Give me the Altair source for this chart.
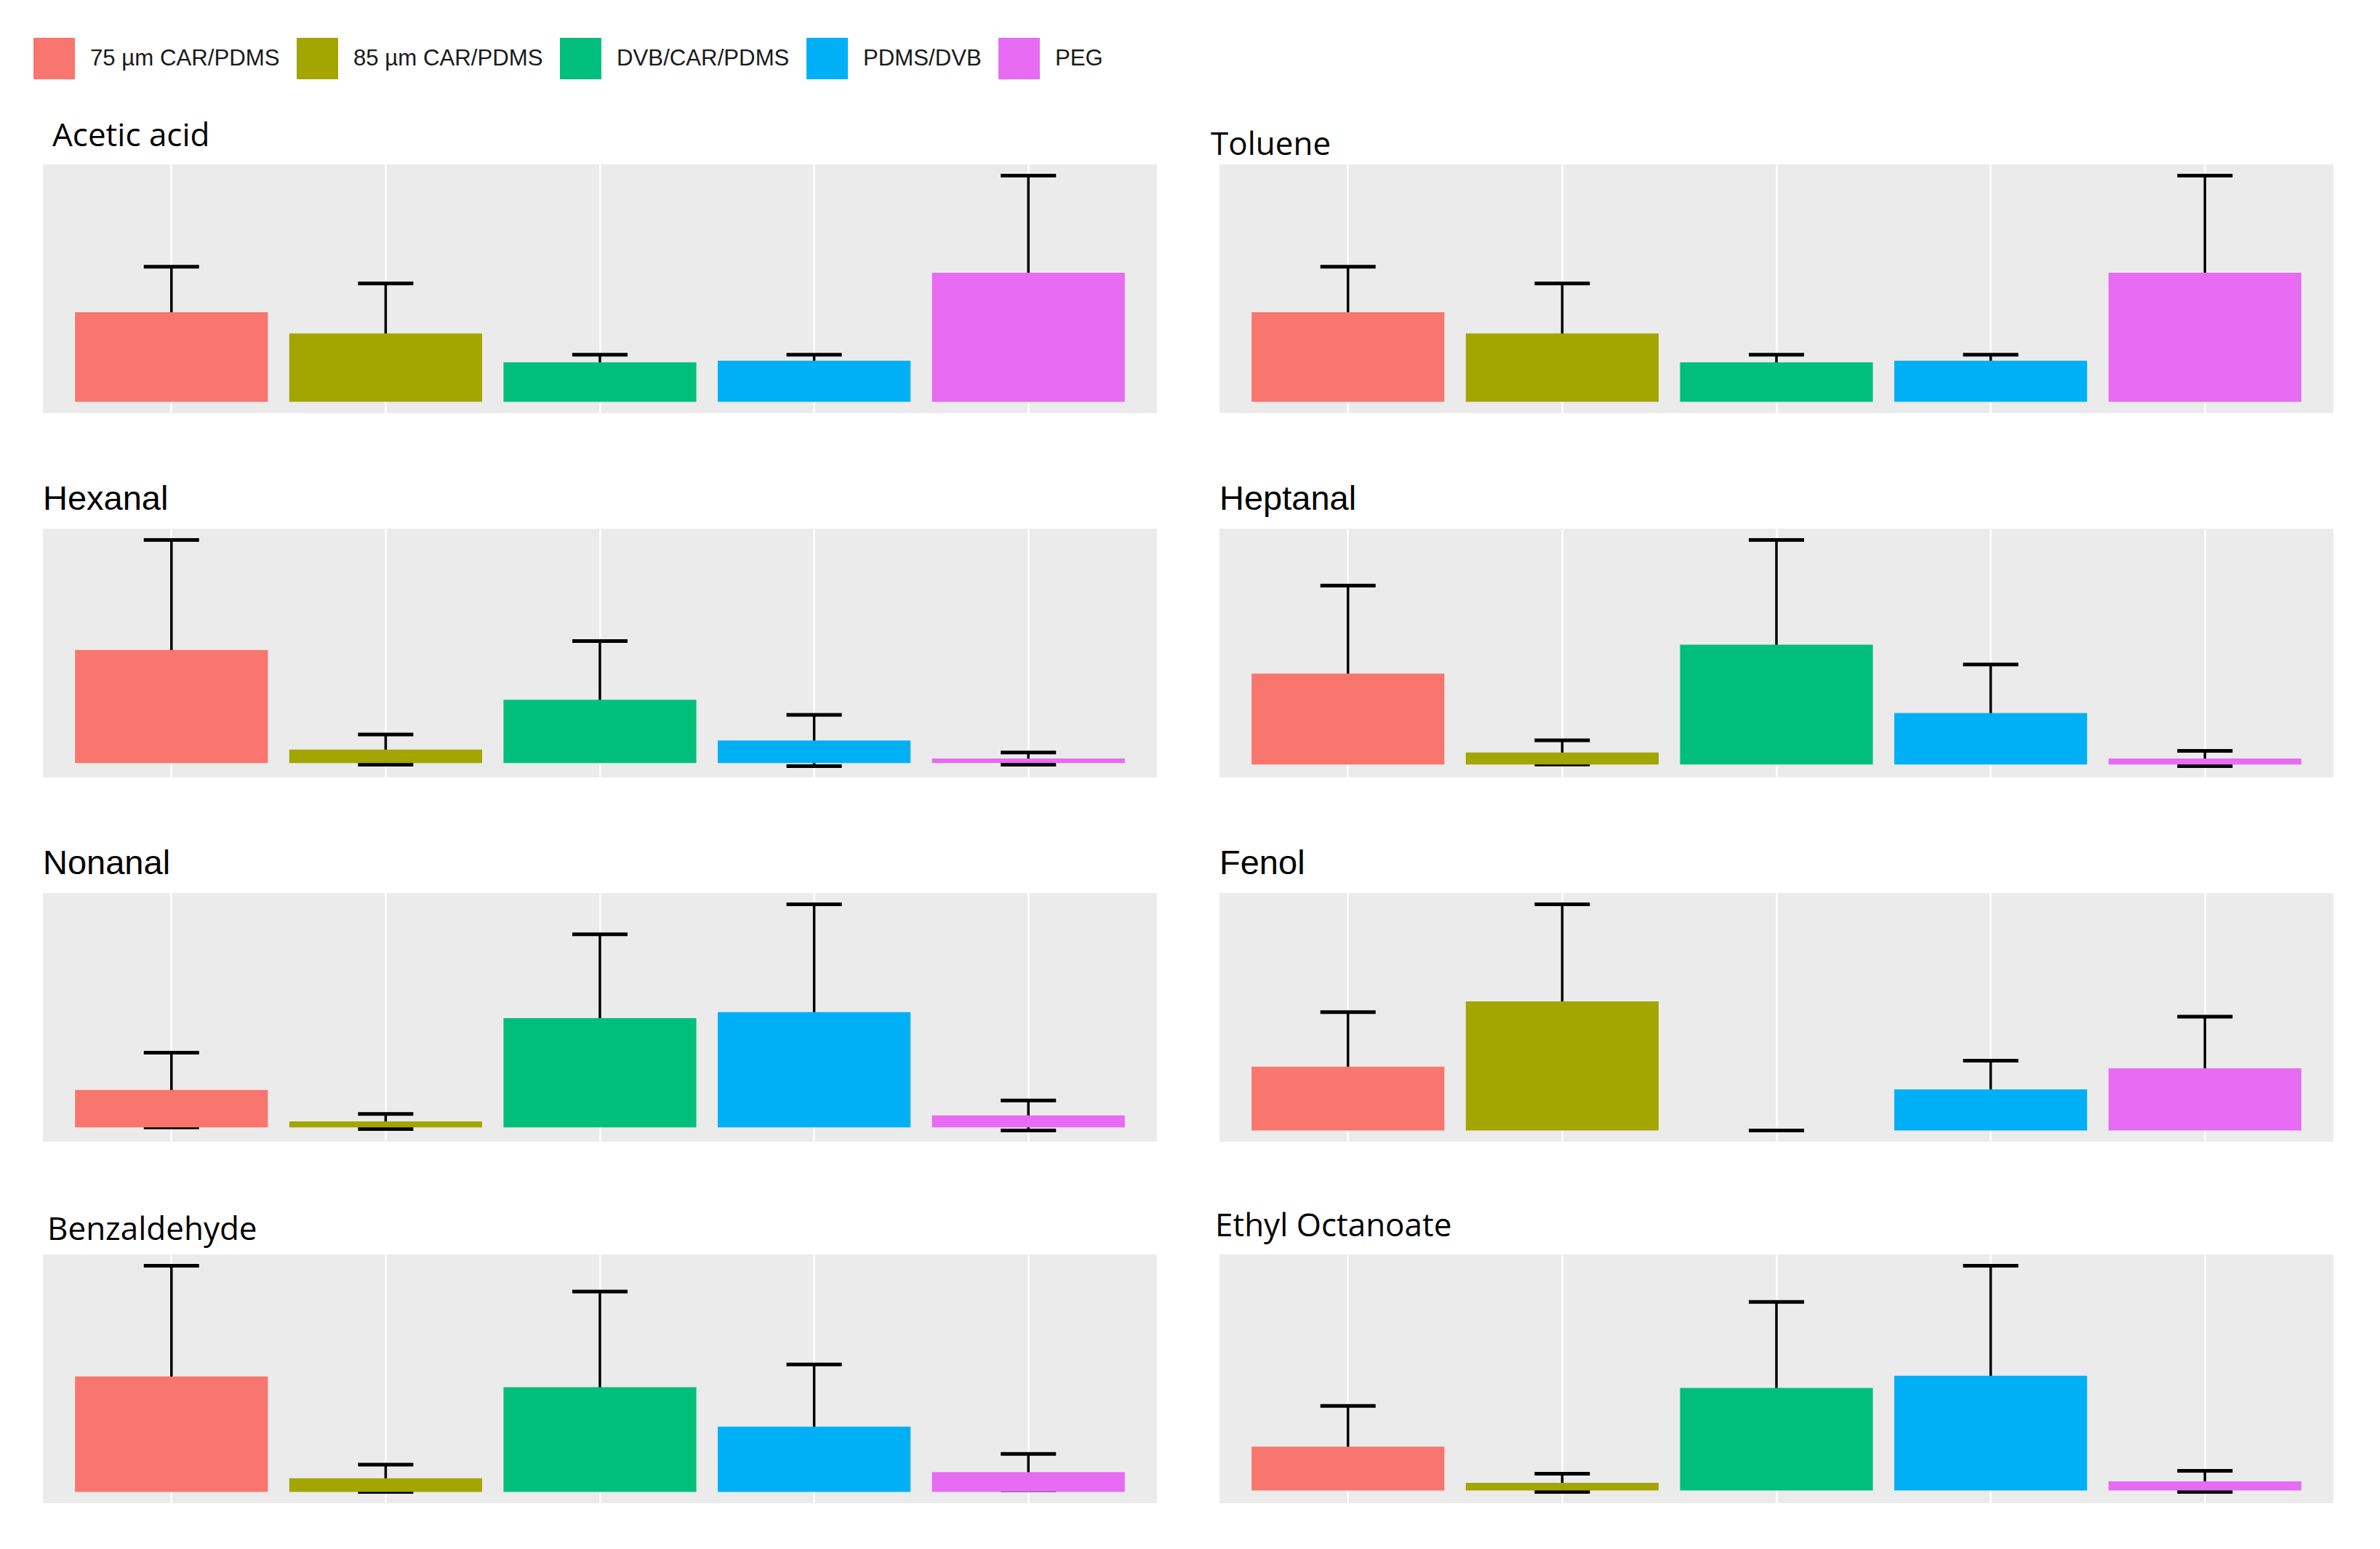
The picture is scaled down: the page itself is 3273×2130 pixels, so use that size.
import altair as alt
import pandas as pd

fibers = ["75 µm CAR/PDMS", "85 µm CAR/PDMS", "DVB/CAR/PDMS", "PDMS/DVB", "PEG"]
fiber_colors = ["#F8766D", "#A3A500", "#00BF7D", "#00B0F6", "#E76BF3"]

compounds = ["Acetic acid", "Toluene", "Hexanal", "Heptanal",
             "Nonanal", "Fenol", "Benzaldehyde", "Ethyl Octanoate"]

# mean response per fiber (arbitrary units)
mean_values = [
    [59, 45, 26, 27, 85],
    [59, 45, 26, 27, 85],
    [75, 9, 42, 15, 3],
    [60, 8, 79, 34, 4],
    [25, 4, 73, 77, 8],
    [42, 85, 0, 27, 41],
    [76, 9, 69, 43, 13],
    [29, 5, 68, 76, 6],
]
# standard deviations (error bar half-lengths)
sd_values = [
    [30, 33, 5, 4, 64],
    [30, 33, 5, 4, 64],
    [73, 10, 39, 17, 4],
    [58, 8, 69, 32, 5],
    [25, 5, 56, 72, 10],
    [36, 64, 0, 19, 34],
    [73, 9, 63, 41, 12],
    [27, 6, 57, 73, 7],
]

# title styling per panel (the source mixes two fonts)
title_fonts = ["Open Sans", "Open Sans", "Liberation Sans", "Liberation Sans",
               "Liberation Sans", "Liberation Sans", "Open Sans", "Open Sans"]
title_dx = [13, -12, 0, 0, 0, 0, 6, -6]
title_offset = [16, 4, 16, 16, 16, 16, 11, 16]

PANEL_W = 1532
PANEL_H = 342


def panel(i, name):
    df = pd.DataFrame({"fiber": fibers, "mean": mean_values[i], "sd": sd_values[i]})
    df["lo"] = df["mean"] - df["sd"]
    df["hi"] = df["mean"] + df["sd"]

    # ggplot-like 5% expansion of the data range
    lo = min(0, df["lo"].min())
    hi = df["hi"].max()
    pad = 0.05 * (hi - lo)
    yscale = alt.Scale(domain=[lo - pad, hi + pad], nice=False, zero=False)

    x = alt.X("fiber:N", sort=fibers,
              scale=alt.Scale(paddingInner=0.1, paddingOuter=0.15),
              axis=alt.Axis(labels=False, ticks=False, domain=False, title=None,
                            grid=True, gridColor="white", gridWidth=2.5, bandPosition=0.5))

    base = alt.Chart(df)
    stem = base.mark_rule(color="black", strokeWidth=3.5).encode(
        x=x, y=alt.Y("lo:Q", scale=yscale, axis=None), y2="hi:Q")
    cap_lo = base.mark_tick(color="black", thickness=5, size=76, opacity=1).encode(
        x=x, y=alt.Y("lo:Q", scale=yscale, axis=None))
    cap_hi = base.mark_tick(color="black", thickness=5, size=76, opacity=1).encode(
        x=x, y=alt.Y("hi:Q", scale=yscale, axis=None))
    bars = base.mark_bar(opacity=1).encode(
        x=x,
        y=alt.Y("mean:Q", scale=yscale, axis=None),
        y2=alt.datum(0),
        color=alt.Color("fiber:N", sort=fibers,
                        scale=alt.Scale(domain=fibers, range=fiber_colors),
                        legend=alt.Legend(orient="none", legendX=-13, legendY=-174,
                                          direction="horizontal", title=None,
                                          symbolType="square", symbolSize=3249,
                                          symbolStrokeWidth=0, symbolOpacity=1,
                                          labelFontSize=31.2, labelFont="Liberation Sans",
                                          labelColor="#1a1a1a", labelOffset=21,
                                          labelLimit=600, columnPadding=23, padding=0)),
    )

    size = 44 if title_fonts[i] == "Open Sans" else 47
    return alt.layer(stem, cap_lo, cap_hi, bars).properties(
        width=PANEL_W, height=PANEL_H,
        title=alt.TitleParams(name, anchor="start", dx=title_dx[i], font=title_fonts[i],
                              fontSize=size, fontWeight="normal", color="black",
                              offset=title_offset[i]),
    )


charts = [panel(i, name) for i, name in enumerate(compounds)]

chart = alt.concat(*charts, columns=2, spacing={"row": 95, "column": 74}).properties(
    padding={"left": 38, "top": 44, "right": 5, "bottom": 5},
    background="white",
).configure_view(fill="#EBEBEB", strokeWidth=0)

chart.save("out.html", embed_options={"renderer": "svg", "actions": False})
